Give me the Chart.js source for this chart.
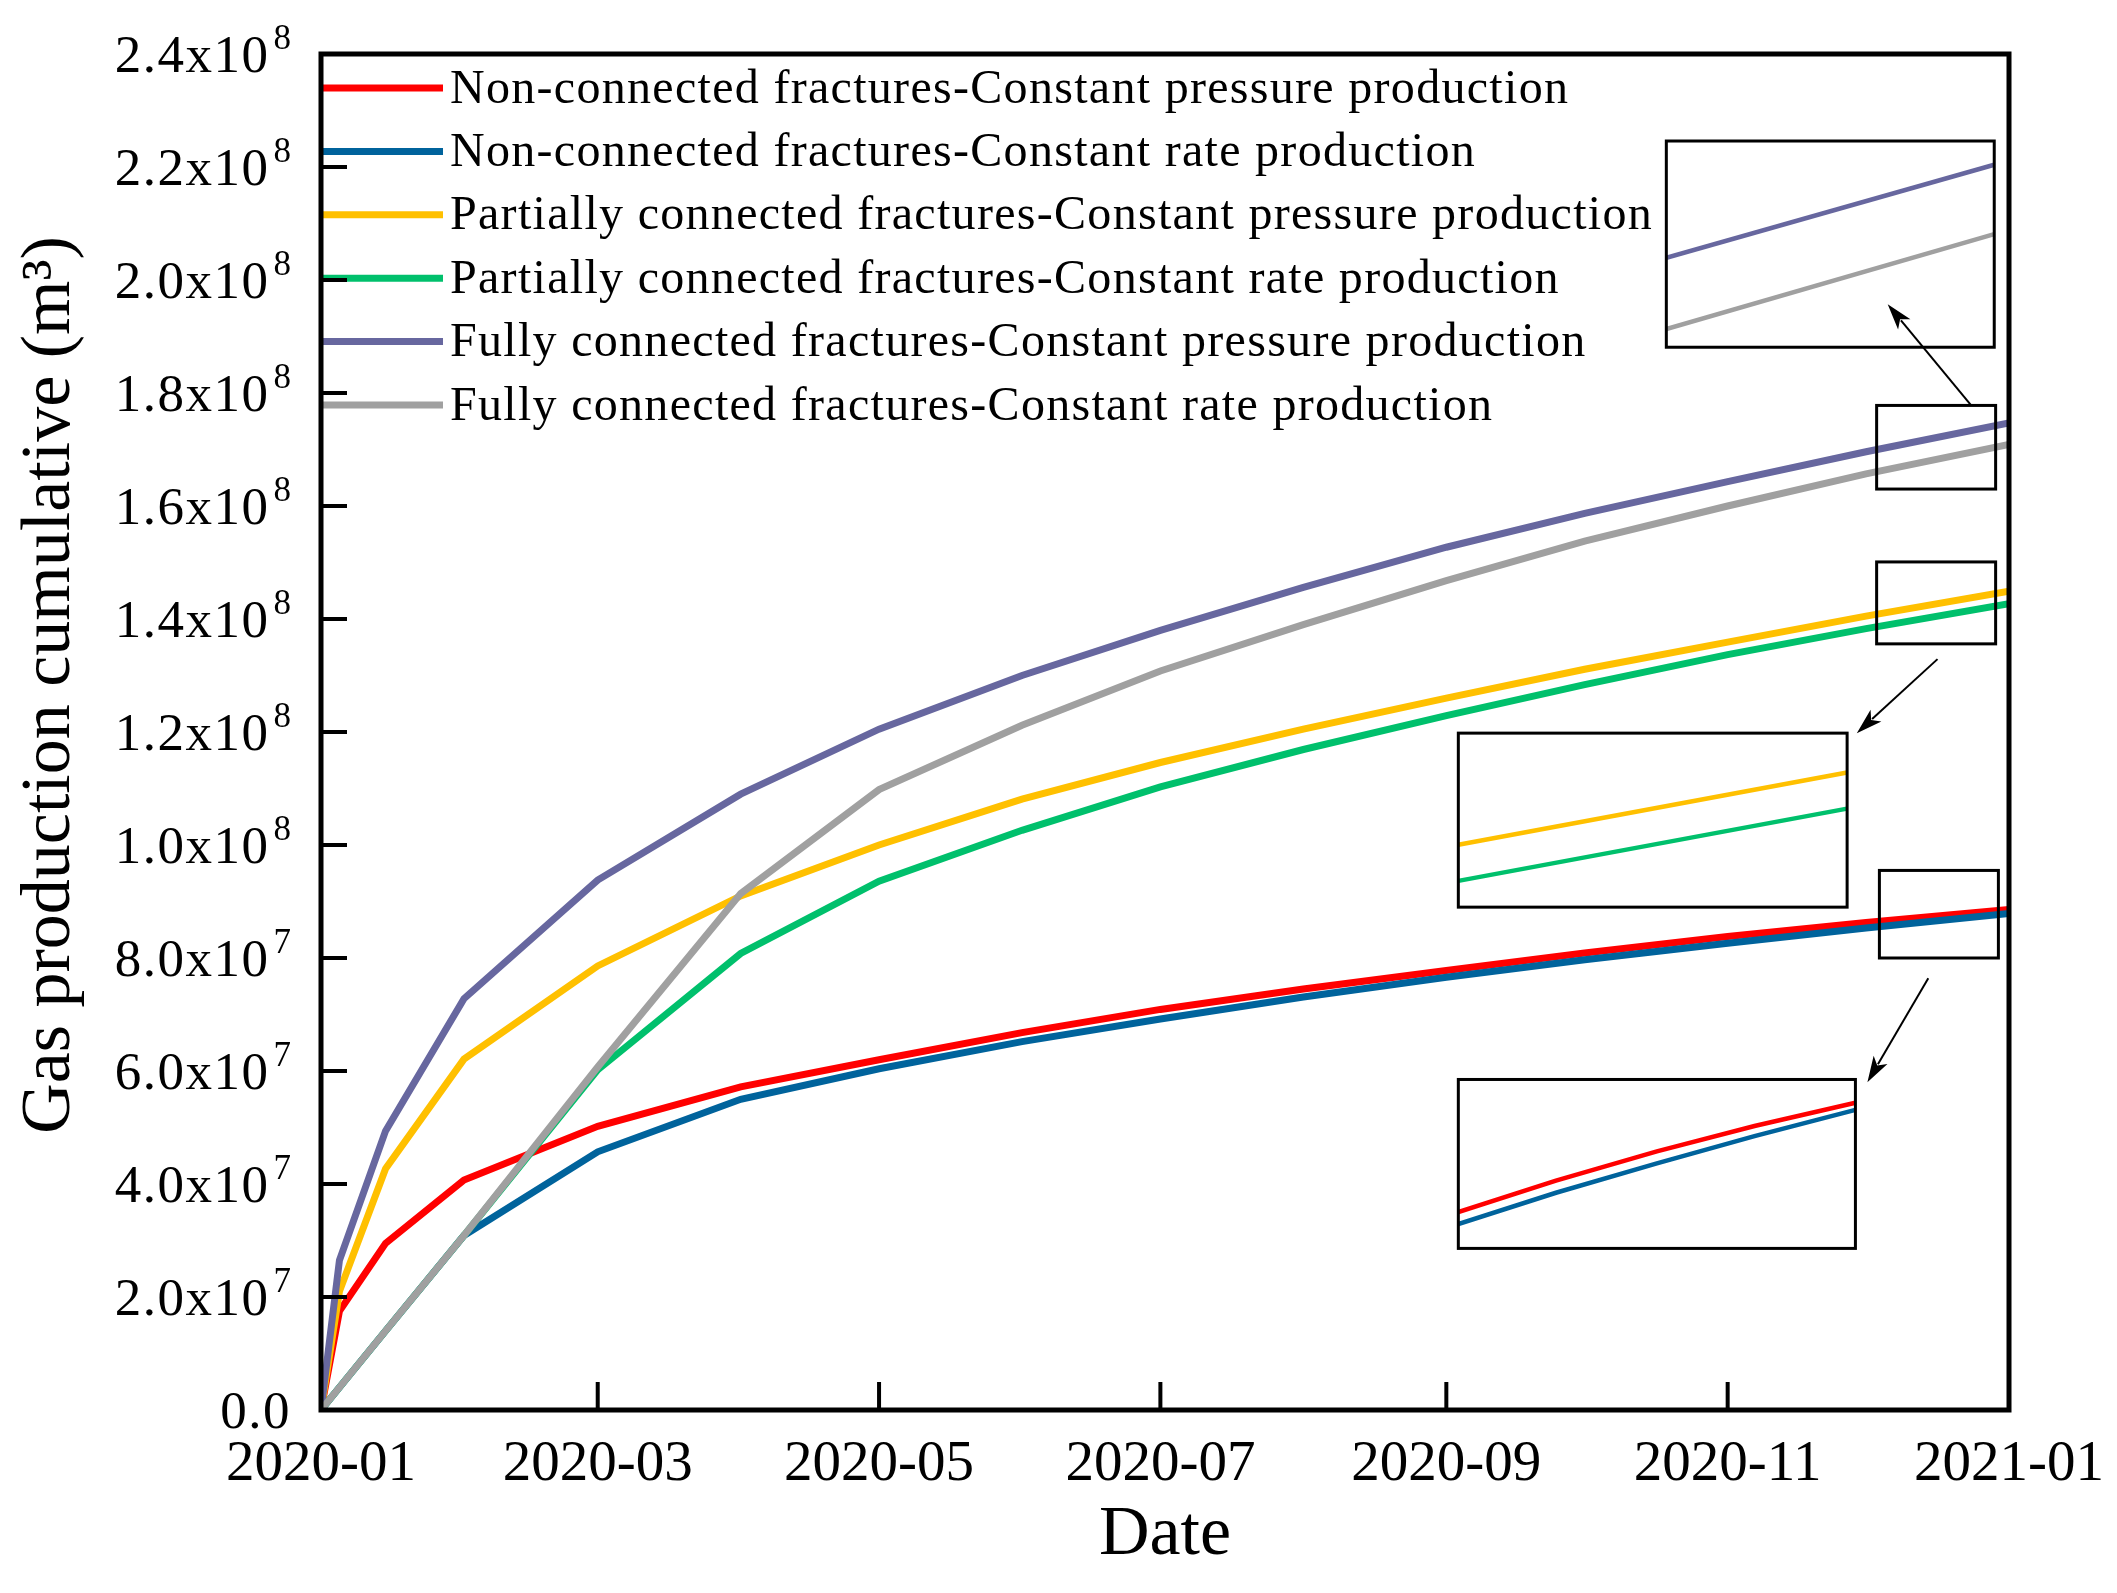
<!DOCTYPE html>
<html>
<head>
<meta charset="utf-8">
<script src="https://cdn.jsdelivr.net/npm/chart.js@4.4.1/dist/chart.umd.min.js"></script>
<style>
  html, body { margin: 0; padding: 0; background: #fff; }
  #wrap { width: 2117px; height: 1593px; }
</style>
</head>
<body>
<div id="wrap"><canvas id="gasChart"></canvas></div>
<script>
const dates = [
  "2020-01-01", "2020-01-05", "2020-01-15", "2020-02-01", "2020-03-01",
  "2020-04-01", "2020-05-01", "2020-06-01", "2020-07-01", "2020-08-01",
  "2020-09-01", "2020-10-01", "2020-11-01", "2020-12-01", "2021-01-01"
];

const seriesNames = [
  "Non-connected fractures-Constant pressure production",
  "Non-connected fractures-Constant rate production",
  "Partially connected fractures-Constant pressure production",
  "Partially connected fractures-Constant rate production",
  "Fully connected fractures-Constant pressure production",
  "Fully connected fractures-Constant rate production"
];

const seriesColors = ["#ff0000", "#00639c", "#ffc000", "#00c06c", "#67679f", "#a0a0a0"];

// cumulative gas, m3
const nonPressure = [0, 1.75e7, 2.95e7, 4.07e7, 5.02e7, 5.72e7, 6.20e7, 6.68e7, 7.09e7, 7.45e7, 7.78e7, 8.09e7, 8.38e7, 8.63e7, 8.86e7];
const nonRate = [0, 0.40e7, 1.40e7, 3.09e7, 4.57e7, 5.50e7, 6.04e7, 6.52e7, 6.92e7, 7.31e7, 7.66e7, 7.97e7, 8.26e7, 8.53e7, 8.79e7];
const partPressure = [0, 2.10e7, 4.27e7, 6.21e7, 7.86e7, 9.10e7, 10.00e7, 10.81e7, 11.46e7, 12.05e7, 12.60e7, 13.11e7, 13.59e7, 14.05e7, 14.49e7];
const partRate = [0, 0.40e7, 1.40e7, 3.09e7, 6.02e7, 8.08e7, 9.36e7, 10.26e7, 11.03e7, 11.69e7, 12.29e7, 12.84e7, 13.37e7, 13.83e7, 14.27e7];
const fullPressure = [0, 2.65e7, 4.94e7, 7.28e7, 9.38e7, 10.90e7, 12.05e7, 13.00e7, 13.80e7, 14.56e7, 15.27e7, 15.87e7, 16.43e7, 16.96e7, 17.47e7];
const fullRate = [0, 0.40e7, 1.40e7, 3.09e7, 6.07e7, 9.14e7, 10.98e7, 12.12e7, 13.08e7, 13.90e7, 14.68e7, 15.38e7, 16.00e7, 16.57e7, 17.09e7];

const allSeries = [nonPressure, nonRate, partPressure, partRate, fullPressure, fullRate];

const tickDates = ["2020-01-01", "2020-03-01", "2020-05-01", "2020-07-01", "2020-09-01", "2020-11-01", "2021-01-01"];
const tickLabels = ["2020-01", "2020-03", "2020-05", "2020-07", "2020-09", "2020-11", "2021-01"];

const yMax = 2.4e8;
const yStep = 2e7;

// zoom insets: which series, the piece of data shown, where the box sits (all in data units)
const insetSeries = [[4, 5], [2, 3], [0, 1]];
const insetFromDates = [["2020-12-01", "2021-01-01"], ["2020-12-01", "2021-01-01"], ["2020-09-01", "2021-01-01"]];
const insetFromValues = [[16.47e7, 17.60e7], [13.67e7, 14.73e7], [7.42e7, 9.09e7]];
const insetBoxDays = [[291.7, 362.8], [246.6, 330.9], [246.6, 332.7]];
const insetBoxValues = [[18.81e7, 22.46e7], [8.90e7, 11.98e7], [2.86e7, 5.85e7]];
const markBoxDays = [[337.3, 363.1], [337.3, 363.1], [337.9, 363.7]];
const markBoxValues = [[16.30e7, 17.78e7], [13.56e7, 15.01e7], [8.00e7, 9.55e7]];
const arrowFrom = [[357.8, 17.78e7], [350.5, 13.29e7], [348.5, 7.64e7]];
const arrowTo = [[339.7, 19.57e7], [333.0, 11.98e7], [335.3, 5.80e7]];

const FONT = "'Liberation Serif', 'Times New Roman', serif";
const START = Date.UTC(2020, 0, 1);

function dayOf(s) {
  const p = s.split("-");
  return (Date.UTC(+p[0], +p[1] - 1, +p[2]) - START) / 86400000;
}

const datasets = allSeries.map(function (vals, i) {
  return {
    label: seriesNames[i],
    data: vals.map(function (v, j) { return { x: dayOf(dates[j]), y: v }; }),
    borderColor: seriesColors[i],
    backgroundColor: seriesColors[i],
    borderWidth: 7,
    pointRadius: 0,
    tension: 0,
    order: 6 - i
  };
});

const decorPlugin = {
  id: "decor",
  afterDatasetsDraw: function (chart) {
    const ctx = chart.ctx;
    const xs = chart.scales.x;
    const ys = chart.scales.y;
    const area = chart.chartArea;

    ctx.save();

    // insets and marker boxes
    for (let k = 0; k < insetSeries.length; k++) {
      const bx0 = xs.getPixelForValue(insetBoxDays[k][0]);
      const bx1 = xs.getPixelForValue(insetBoxDays[k][1]);
      const by0 = ys.getPixelForValue(insetBoxValues[k][1]);
      const by1 = ys.getPixelForValue(insetBoxValues[k][0]);
      const d0 = dayOf(insetFromDates[k][0]);
      const d1 = dayOf(insetFromDates[k][1]);
      const v0 = insetFromValues[k][0];
      const v1 = insetFromValues[k][1];

      ctx.save();
      ctx.beginPath();
      ctx.rect(bx0, by0, bx1 - bx0, by1 - by0);
      ctx.clip();
      insetSeries[k].forEach(function (si) {
        const vals = allSeries[si];
        ctx.beginPath();
        let first = true;
        for (let j = 0; j < dates.length; j++) {
          const d = dayOf(dates[j]);
          if (d < d0 || d > d1) continue;
          const px = bx0 + (d - d0) / (d1 - d0) * (bx1 - bx0);
          const py = by1 - (vals[j] - v0) / (v1 - v0) * (by1 - by0);
          if (first) { ctx.moveTo(px, py); first = false; } else { ctx.lineTo(px, py); }
        }
        ctx.strokeStyle = seriesColors[si];
        ctx.lineWidth = 4.5;
        ctx.stroke();
      });
      ctx.restore();

      ctx.strokeStyle = "#000";
      ctx.lineWidth = 3;
      ctx.strokeRect(bx0, by0, bx1 - bx0, by1 - by0);

      const mx0 = xs.getPixelForValue(markBoxDays[k][0]);
      const mx1 = xs.getPixelForValue(markBoxDays[k][1]);
      const my0 = ys.getPixelForValue(markBoxValues[k][1]);
      const my1 = ys.getPixelForValue(markBoxValues[k][0]);
      ctx.strokeRect(mx0, my0, mx1 - mx0, my1 - my0);

      // arrow
      const ax0 = xs.getPixelForValue(arrowFrom[k][0]);
      const ay0 = ys.getPixelForValue(arrowFrom[k][1]);
      const ax1 = xs.getPixelForValue(arrowTo[k][0]);
      const ay1 = ys.getPixelForValue(arrowTo[k][1]);
      const ang = Math.atan2(ay1 - ay0, ax1 - ax0);
      const headLen = 26;
      const headW = 8;
      ctx.beginPath();
      ctx.moveTo(ax0, ay0);
      ctx.lineTo(ax1 - Math.cos(ang) * headLen * 0.8, ay1 - Math.sin(ang) * headLen * 0.8);
      ctx.lineWidth = 2;
      ctx.stroke();
      ctx.beginPath();
      ctx.moveTo(ax1, ay1);
      ctx.lineTo(ax1 - Math.cos(ang) * headLen - Math.sin(ang) * headW, ay1 - Math.sin(ang) * headLen + Math.cos(ang) * headW);
      ctx.lineTo(ax1 - Math.cos(ang) * headLen * 0.75, ay1 - Math.sin(ang) * headLen * 0.75);
      ctx.lineTo(ax1 - Math.cos(ang) * headLen + Math.sin(ang) * headW, ay1 - Math.sin(ang) * headLen - Math.cos(ang) * headW);
      ctx.closePath();
      ctx.fillStyle = "#000";
      ctx.fill();
    }

    // legend inside the plot
    ctx.textAlign = "left";
    ctx.textBaseline = "middle";
    ctx.font = "48px " + FONT;
    ctx.letterSpacing = "1.3px";
    for (let i = 0; i < seriesNames.length; i++) {
      const ly = area.top + 34 + i * 63.4;
      ctx.beginPath();
      ctx.moveTo(area.left, ly);
      ctx.lineTo(area.left + 122, ly);
      ctx.strokeStyle = seriesColors[i];
      ctx.lineWidth = 7;
      ctx.stroke();
      ctx.fillStyle = "#000";
      ctx.fillText(seriesNames[i], area.left + 129, ly + 2);
    }
    ctx.letterSpacing = "0px";

    // frame
    ctx.strokeStyle = "#000";
    ctx.lineWidth = 5;
    ctx.strokeRect(area.left, area.top, area.right - area.left, area.bottom - area.top);

    // inward tick marks
    ctx.lineWidth = 4;
    ys.ticks.forEach(function (t) {
      const py = ys.getPixelForValue(t.value);
      ctx.beginPath();
      ctx.moveTo(area.left, py);
      ctx.lineTo(area.left + 26, py);
      ctx.stroke();
    });
    xs.ticks.forEach(function (t) {
      const px = xs.getPixelForValue(t.value);
      ctx.beginPath();
      ctx.moveTo(px, area.bottom);
      ctx.lineTo(px, area.bottom - 28);
      ctx.stroke();
    });

    // y tick labels with superscript exponent
    const labelRight = area.left - 30;
    ctx.fillStyle = "#000";
    ctx.textAlign = "right";
    ctx.textBaseline = "alphabetic";
    ys.ticks.forEach(function (t) {
      const py = ys.getPixelForValue(t.value);
      ctx.letterSpacing = "1.5px";
      if (t.value === 0) {
        ctx.font = "53px " + FONT;
        ctx.fillText("0.0", labelRight, py + 18);
        return;
      }
      const e = Math.floor(Math.log10(t.value) + 1e-9);
      const m = (t.value / Math.pow(10, e)).toFixed(1);
      ctx.letterSpacing = "0px";
      ctx.font = "35px " + FONT;
      const sup = String(e);
      const supW = ctx.measureText(sup).width;
      ctx.fillText(sup, labelRight, py - 5);
      ctx.letterSpacing = "1.5px";
      ctx.font = "53px " + FONT;
      ctx.fillText(m + "x10", labelRight - supW - 4, py + 18);
    });
    ctx.letterSpacing = "0px";

    // y title
    ctx.save();
    ctx.translate(51, (area.top + area.bottom) / 2 - 47);
    ctx.rotate(-Math.PI / 2);
    ctx.textAlign = "center";
    ctx.textBaseline = "middle";
    ctx.font = "70px " + FONT;
    ctx.fillText("Gas production cumulative (m\u00b3)", 0, 0);
    ctx.restore();

    ctx.restore();
  }
};

new Chart(document.getElementById("gasChart"), {
  type: "line",
  data: { datasets: datasets },
  options: {
    responsive: true,
    maintainAspectRatio: false,
    animation: false,
    layout: { padding: { left: 321, top: 54, right: 108, bottom: 15 } },
    plugins: {
      legend: { display: false },
      tooltip: { enabled: false }
    },
    scales: {
      x: {
        type: "linear",
        min: 0,
        max: dayOf("2021-01-01"),
        grid: { display: false, drawTicks: false },
        border: { display: false },
        afterBuildTicks: function (scale) {
          scale.ticks = tickDates.map(function (d) { return { value: dayOf(d) }; });
        },
        ticks: {
          autoSkip: false,
          maxRotation: 0,
          padding: 21,
          color: "#000",
          font: { family: FONT, size: 57 },
          callback: function (value, index) { return tickLabels[index]; }
        },
        title: {
          display: true,
          text: "Date",
          color: "#000",
          font: { family: FONT, size: 70 },
          padding: { top: 0, bottom: 0 }
        },
        afterFit: function (scale) {
          scale.height = 168;
          scale.paddingLeft = 0;
          scale.paddingRight = 0;
        }
      },
      y: {
        min: 0,
        max: yMax,
        grid: { display: false, drawTicks: false },
        border: { display: false },
        ticks: { display: false, stepSize: yStep },
        afterFit: function (scale) { scale.width = 0; }
      }
    }
  },
  plugins: [decorPlugin]
});
</script>
</body>
</html>
